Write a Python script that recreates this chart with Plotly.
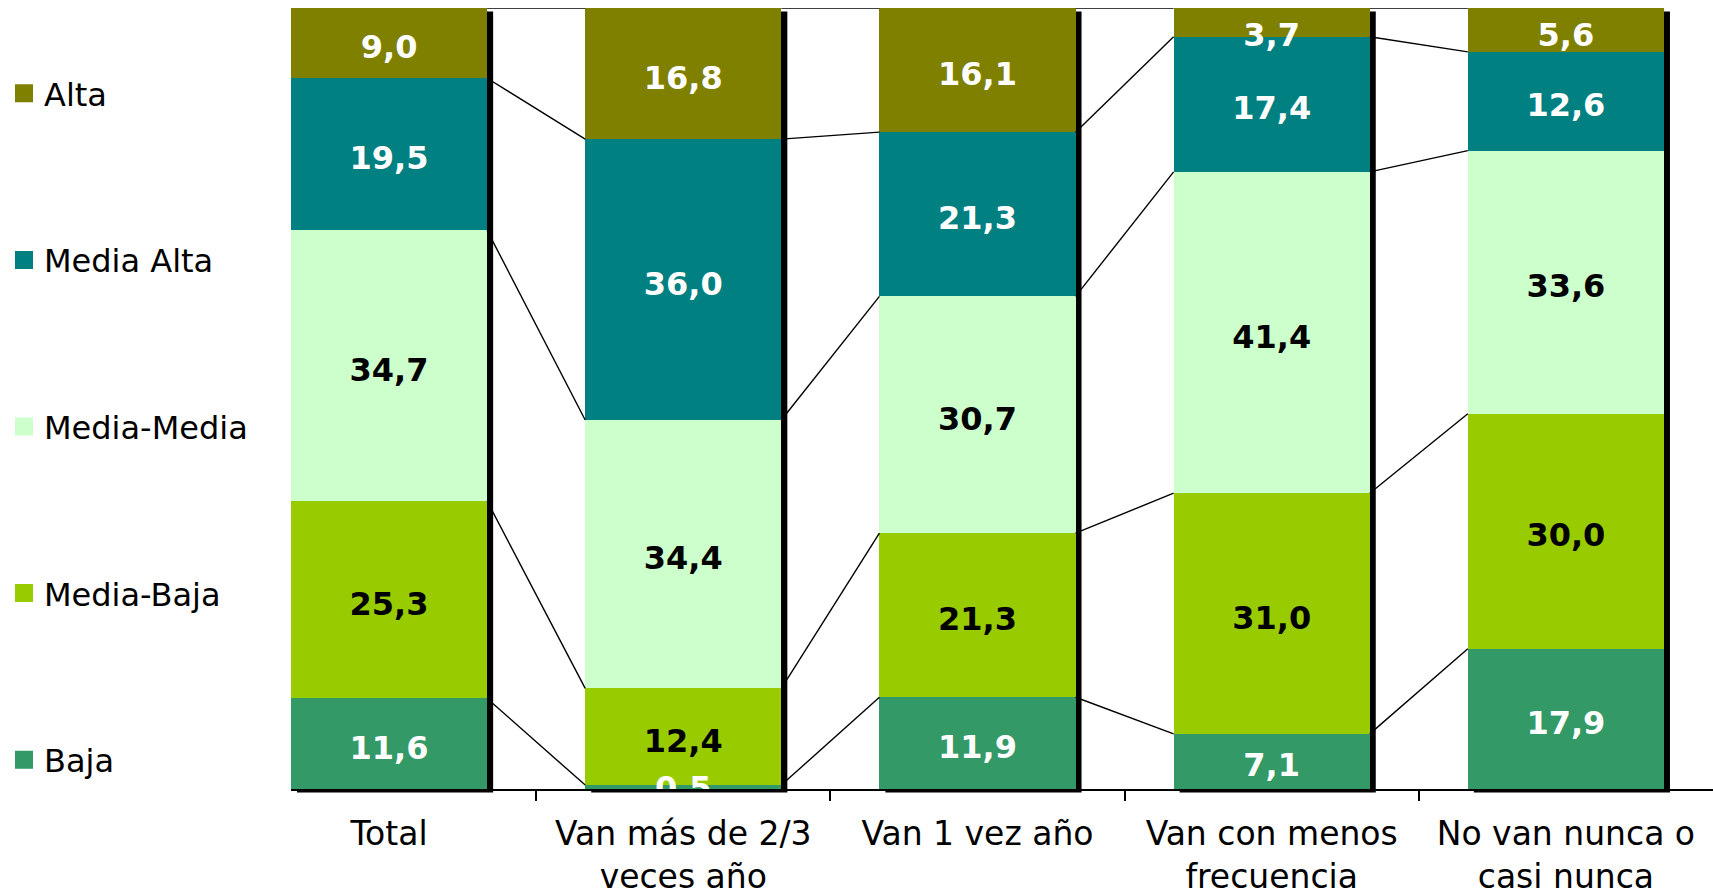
import plotly.graph_objects as go

# ---------------- data ----------------
categories = ["Total", "Van más de 2/3<br>veces año", "Van 1 vez año",
              "Van con menos<br>frecuencia", "No van nunca o<br>casi nunca"]
series_names = ["Baja", "Media-Baja", "Media-Media", "Media Alta", "Alta"]
baja = [11.6, 0.5, 11.9, 7.1, 17.9]
media_baja = [25.3, 12.4, 21.3, 31.0, 30.0]
media_media = [34.7, 34.4, 30.7, 41.4, 33.6]
media_alta = [19.5, 36.0, 21.3, 17.4, 12.6]
alta = [9.0, 16.8, 16.1, 3.7, 5.6]
series_values = [baja, media_baja, media_media, media_alta, alta]

# ---------------- style ----------------
fill_colors = ["#339966", "#99CC00", "#CCFFCC", "#008080", "#808000"]
text_colors = ["white", "black", "black", "white", "white"]
FONT = "DejaVu Sans"
W, H = 1713, 895
ML, MR, MT, MB = 291, 0, 8, 106
plot_w = W - ML - MR
plot_h = H - MT - MB
BAR_W = 2 / 3
n = len(categories)
xpos = list(range(n))
x_range = [-BAR_W / 2, n - 0.5]
px_per_unit = plot_w / (x_range[1] - x_range[0])
SHADOW_DX = 6 / px_per_unit
SHADOW_DY = 3.5 / plot_h
LABEL_SHIFT = 7 / plot_h * 100      # value labels sit slightly below segment centre
LABEL_TOP_MAX = 100 - 3.0           # keep labels of thin top segments inside the plot
LABEL_BOTTOM_MIN = -1.5 / plot_h * 100


def fmt(v):
    return f"{v:.1f}".replace(".", ",")


fig = go.Figure()

totals = [sum(s[i] for s in series_values) for i in range(n)]

# series lines (connect segment boundaries between bars)
cum = [0.0] * n
for k, vals in enumerate(series_values):
    cum = [cum[i] + vals[i] for i in range(n)]
    pct = [cum[i] / totals[i] * 100 for i in range(n)]
    lx, ly = [], []
    for i in range(n - 1):
        lx += [xpos[i] + BAR_W / 2, xpos[i + 1] - BAR_W / 2, None]
        ly += [pct[i], pct[i + 1], None]
    fig.add_trace(go.Scatter(x=lx, y=ly, mode="lines", line=dict(color="black", width=1.4),
                             showlegend=False, hoverinfo="skip", cliponaxis=False))

# stacked 100% bars
for name, vals, fc in zip(series_names, series_values, fill_colors):
    fig.add_trace(go.Bar(
        x=xpos, y=vals, width=BAR_W, name=name,
        marker=dict(color=fc, line=dict(width=0)),
        showlegend=False, hoverinfo="skip"))

# value labels (drawn above all bars), centred in each segment
cum = [0.0] * n
for name, vals, tc in zip(series_names, series_values, text_colors):
    mids = [max(min((cum[i] + vals[i] / 2) / totals[i] * 100, LABEL_TOP_MAX) - LABEL_SHIFT,
                LABEL_BOTTOM_MIN)
            for i in range(n)]
    cum = [cum[i] + vals[i] for i in range(n)]
    fig.add_trace(go.Scatter(
        x=xpos, y=mids, mode="text", text=[fmt(v) for v in vals],
        textposition="middle center",
        textfont=dict(family=FONT, size=32, color=tc, weight="bold"),
        showlegend=False, hoverinfo="skip", cliponaxis=True))

# legend entries (top to bottom: Alta ... Baja)
for name, fc in reversed(list(zip(series_names, fill_colors))):
    fig.add_trace(go.Scatter(
        x=[None], y=[None], mode="markers", name=name, legendgroup=name,
        marker=dict(symbol="square", size=16, color=fc, line=dict(color=fc, width=2))))

# bar shadows
shapes = []
for i in xpos:
    shapes.append(dict(type="rect", xref="x", yref="y domain",
                       x0=i - BAR_W / 2 + SHADOW_DX, x1=i + BAR_W / 2 + SHADOW_DX,
                       y0=-SHADOW_DY, y1=1 - SHADOW_DY,
                       fillcolor="black", line=dict(width=0), layer="below"))

LEG_X_PX, LEG_Y_PX = 4, 66
fig.update_layout(
    width=W, height=H,
    margin=dict(l=ML, r=MR, t=MT, b=MB, autoexpand=False),
    paper_bgcolor="white", plot_bgcolor="white",
    barmode="stack", barnorm="percent",
    shapes=shapes,
    font=dict(family=FONT, color="black"),
    legend=dict(x=(LEG_X_PX - ML) / plot_w, y=1 - (LEG_Y_PX - MT) / plot_h,
                xanchor="left", yanchor="top", traceorder="grouped",
                tracegroupgap=122, font=dict(size=32, family=FONT, color="black"),
                bgcolor="rgba(0,0,0,0)"),
    xaxis=dict(range=x_range, tickmode="array", tickvals=xpos, ticktext=categories,
               ticks="", showgrid=False, zeroline=False, ticklabelstandoff=15,
               automargin=False,
               showline=True, linecolor="black", linewidth=1.5,
               tickfont=dict(size=33, family=FONT, color="black"),
               minor=dict(tickmode="array", tickvals=[i + 0.5 for i in xpos[:-1]],
                          ticks="outside", ticklen=10, tickwidth=1.5, tickcolor="black")),
    yaxis=dict(range=[0, 100], visible=False, showgrid=False, zeroline=False,
               automargin=False),
)

fig.write_html("out.html", config={"displayModeBar": False},
               post_script="document.body.style.margin='0';document.body.style.padding='0';")
